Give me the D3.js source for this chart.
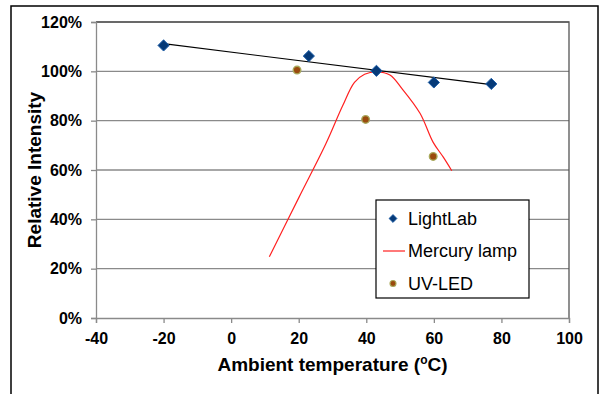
<html>

<head>
    <meta charset="utf-8" />
    <script src="https://cdn.jsdelivr.net/npm/d3@7"></script>
    <style>
        body { margin: 0; background: #fff; }
        text { font-family: "Liberation Sans", Arial, sans-serif; }
    </style>
</head>

<body>
    <script>
        var width = 600;
        var height = 394;

        // data
        var xTicks = [-40, -20, 0, 20, 40, 60, 80, 100];
        var yTicks = [0, 0.2, 0.4, 0.6, 0.8, 1.0, 1.2];

        var lightLabTemp = [-20, 23, 43, 60, 77];
        var lightLabIntensity = [1.105, 1.062, 1.002, 0.955, 0.949];

        var trendTemp = [-20, 77];
        var trendIntensity = [1.112, 0.946];

        var mercuryTemp = [11.3, 20.0, 28.0, 33.0, 36.5, 39.5, 43.1, 47.0, 50.5, 55.9, 59.8, 62.8, 65.3];
        var mercuryIntensity = [0.248, 0.487, 0.705, 0.860, 0.955, 0.988, 0.998, 0.985, 0.931, 0.830, 0.712, 0.652, 0.597];

        var uvTemp = [19.5, 39.8, 59.8];
        var uvIntensity = [1.005, 0.805, 0.655];

        var legendItems = ['LightLab', 'Mercury lamp', 'UV-LED'];

        var plot = { left: 96, right: 569, top: 22, bottom: 318 };

        var x = d3.scaleLinear().domain([-40, 100]).range([plot.left, plot.right]);
        var y = d3.scaleLinear().domain([0, 1.2]).range([plot.bottom, plot.top]);

        var svg = d3.select('body')
            .append('svg')
            .attr('width', width)
            .attr('height', height)
            .style('background', '#fff');

        // outer chart border
        svg.append('rect')
            .attr('x', 11).attr('y', 6)
            .attr('width', 587).attr('height', 420)
            .attr('fill', 'none')
            .attr('stroke', '#000')
            .attr('stroke-width', 1.5);

        // gridlines
        svg.selectAll('line.grid')
            .data(yTicks.slice(1))
            .enter()
            .append('line')
            .attr('class', 'grid')
            .attr('x1', plot.left).attr('x2', plot.right)
            .attr('y1', function (d) { return y(d); })
            .attr('y2', function (d) { return y(d); })
            .attr('stroke', '#8a8a8a')
            .attr('stroke-width', 1.3);

        // plot area border (top/right)
        svg.append('path')
            .attr('d', 'M' + plot.left + ',' + plot.top + 'H' + plot.right + 'V' + plot.bottom)
            .attr('fill', 'none')
            .attr('stroke', '#555')
            .attr('stroke-width', 1.3);

        var yAxis = svg.append('g')
            .attr('transform', 'translate(' + plot.left + ',0)')
            .call(d3.axisLeft(y).tickValues(yTicks).tickSize(5).tickPadding(9)
                .tickFormat(function (d) { return Math.round(d * 100) + '%'; }));

        var xAxis = svg.append('g')
            .attr('transform', 'translate(0,' + plot.bottom + ')')
            .call(d3.axisBottom(x).tickValues(xTicks).tickSize(5).tickPadding(10)
                .tickFormat(function (d) { return String(d); }));

        [yAxis, xAxis].forEach(function (ax) {
            ax.select('.domain').attr('stroke', '#8a8a8a').attr('stroke-width', 1.3);
            ax.selectAll('.tick line').attr('stroke', '#8a8a8a').attr('stroke-width', 1.3);
            ax.selectAll('.tick text')
                .attr('font-size', 16)
                .attr('font-weight', 'bold')
                .attr('fill', '#000')
                .style('font-family', '"Liberation Sans", Arial, sans-serif');
        });

        // axis titles
        var xTitle = svg.append('text')
            .attr('x', (plot.left + plot.right) / 2)
            .attr('y', 371)
            .attr('text-anchor', 'middle')
            .attr('font-size', 19)
            .attr('font-weight', 'bold')
            .text('Ambient temperature (');
        xTitle.append('tspan').attr('font-size', 12).attr('dy', -7).text('o');
        xTitle.append('tspan').attr('dy', 7).text('C)');

        svg.append('text')
            .attr('transform', 'translate(41,' + (plot.top + plot.bottom) / 2 + ') rotate(-90)')
            .attr('text-anchor', 'middle')
            .attr('font-size', 19)
            .attr('font-weight', 'bold')
            .text('Relative Intensity');

        // mercury lamp curve
        var mercury = mercuryTemp.map(function (t, i) { return [t, mercuryIntensity[i]]; });
        svg.append('path')
            .datum(mercury)
            .attr('fill', 'none')
            .attr('stroke', '#ff2020')
            .attr('stroke-width', 1.2)
            .attr('d', d3.line()
                .x(function (d) { return x(d[0]); })
                .y(function (d) { return y(d[1]); })
                .curve(d3.curveCatmullRom.alpha(0.5)));

        // LightLab trend line
        var trend = trendTemp.map(function (t, i) { return [t, trendIntensity[i]]; });
        svg.append('path')
            .datum(trend)
            .attr('fill', 'none')
            .attr('stroke', '#000')
            .attr('stroke-width', 1.2)
            .attr('d', d3.line()
                .x(function (d) { return x(d[0]); })
                .y(function (d) { return y(d[1]); }));

        // UV-LED points
        svg.selectAll('circle.uv')
            .data(uvTemp)
            .enter()
            .append('circle')
            .attr('class', 'uv')
            .attr('cx', function (d) { return x(d); })
            .attr('cy', function (d, i) { return y(uvIntensity[i]); })
            .attr('r', 3.8)
            .attr('fill', '#9a4a0e')
            .attr('stroke', '#a8a85a')
            .attr('stroke-width', 1.4);

        // LightLab diamonds
        var diamond = d3.symbol().type(d3.symbolDiamond2).size(80);
        svg.selectAll('path.ll')
            .data(lightLabTemp)
            .enter()
            .append('path')
            .attr('class', 'll')
            .attr('d', diamond)
            .attr('transform', function (d, i) {
                return 'translate(' + x(d) + ',' + y(lightLabIntensity[i]) + ')';
            })
            .attr('fill', '#063a78')
            .attr('stroke', '#1d5ea8')
            .attr('stroke-width', 1);

        // legend
        var legend = svg.append('g').attr('transform', 'translate(376,200)');
        legend.append('rect')
            .attr('width', 153).attr('height', 98)
            .attr('fill', '#fff')
            .attr('stroke', '#000')
            .attr('stroke-width', 1.2);

        var rows = legend.selectAll('g.row')
            .data(legendItems)
            .enter()
            .append('g')
            .attr('class', 'row')
            .attr('transform', function (d, i) { return 'translate(0,' + (18.5 + i * 32.5) + ')'; });

        rows.append('text')
            .attr('x', 32)
            .attr('dy', '0.35em')
            .attr('font-size', 18)
            .attr('fill', '#000')
            .text(function (d) { return d; });

        legend.append('path')
            .attr('d', d3.symbol().type(d3.symbolDiamond2).size(40))
            .attr('transform', 'translate(17,18.5)')
            .attr('fill', '#063a78')
            .attr('stroke', '#1d5ea8')
            .attr('stroke-width', 0.8);
        legend.append('line')
            .attr('x1', 7).attr('x2', 29)
            .attr('y1', 51).attr('y2', 51)
            .attr('stroke', '#ff2020')
            .attr('stroke-width', 1.2);
        legend.append('circle')
            .attr('cx', 17).attr('cy', 83.5)
            .attr('r', 3)
            .attr('fill', '#9a4a0e')
            .attr('stroke', '#a8a85a')
            .attr('stroke-width', 1.1);
    </script>
</body>

</html>
